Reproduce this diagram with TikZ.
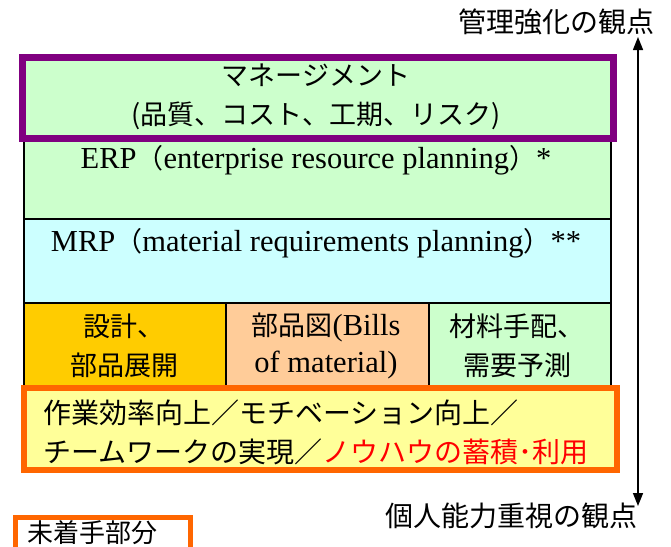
\documentclass[tikz,border=0pt]{standalone}
\usepackage{fontspec}
\setmainfont{Liberation Serif}
\newfontfamily\jp{Noto Sans CJK JP}
\usetikzlibrary{arrows.meta}
\definecolor{lgreen}{HTML}{CCFFCC}
\definecolor{lcyan}{HTML}{CCFFFF}
\definecolor{gold}{HTML}{FFCC00}
\definecolor{peach}{HTML}{FFCC99}
\definecolor{lyellow}{HTML}{FFFF99}
\definecolor{mpurple}{HTML}{800080}
\definecolor{morange}{HTML}{FF6600}
\newcommand\jpp[1]{{\jp\fontsize{27}{30}\selectfont #1}}
\begin{document}
\begin{tikzpicture}[x=1pt,y=-1pt,
  cell/.style={draw=black,line width=1.8pt,anchor=north west,inner sep=0pt},
  txt/.style={font=\fontsize{30.5}{37}\selectfont,align=center,inner sep=0pt},
  jtxt/.style={font=\jp\fontsize{27}{39}\selectfont,inner sep=0pt},
  lbl/.style={font=\jp\fontsize{28}{30}\selectfont,inner sep=0pt}]
\useasboundingbox (0,0) rectangle (671,546);
% layers
\node[cell,fill=lgreen,minimum width=587pt,minimum height=163pt] (erp) at (23,55) {};
\node[cell,fill=lcyan,minimum width=587pt,minimum height=84pt] (mrp) at (23,218) {};
\node[cell,fill=gold,minimum width=202pt,minimum height=84pt] (c1) at (23,302) {};
\node[cell,fill=peach,minimum width=203pt,minimum height=84pt] (c2) at (225,302) {};
\node[cell,fill=lgreen,minimum width=182pt,minimum height=84pt] (c3) at (428,302) {};
% management box
\node[draw=mpurple,line width=7pt,fill=lgreen,anchor=north west,inner sep=0pt,
  minimum width=591pt,minimum height=81pt] (mgmt) at (18.5,53.5) {};
% bottom orange box
\node[draw=morange,line width=6pt,fill=lyellow,anchor=north west,inner sep=0pt,
  minimum width=593pt,minimum height=82pt] (team) at (21,385) {};
% legend box
\node[draw=morange,line width=5pt,fill=white,anchor=north west,inner sep=0pt,
  minimum width=175pt,minimum height=40pt] (legend) at (12.5,514.5) {};
% texts
\node[jtxt,align=center] (mgmtt) at (316,97) {マネージメント\\(品質、コスト、工期、リスク)};
\node[txt] (erpt) at (316,160) {ERP\jpp{（}enterprise resource planning\jpp{）}*};
\node[txt] (mrpt) at (316,243) {MRP\jpp{（}material requirements planning\jpp{）}**};
\node[jtxt,align=center] (c1t) at (124,346) {設計、\\部品展開};
\node[txt] (c2t) at (326,346) {\jpp{部品図}(Bills\\of material)};
\node[jtxt,align=center] (c3t) at (517,346) {材料手配、\\需要予測};
\node[jtxt,align=left,anchor=west,font=\jp\fontsize{28}{39}\selectfont] (teamt) at (43,432)
  {作業効率向上／モチベーション向上／\\チームワークの実現／\textcolor{red}{ノウハウの蓄積･利用}};
\node[lbl,anchor=west,font=\jp\fontsize{26}{30}\selectfont] (legendt) at (27,533) {未着手部分};
% axis arrow
\coordinate (atop) at (638,37);
\coordinate (abot) at (638,506);
\draw[{Triangle[width=10pt,length=13pt]}-{Triangle[width=10pt,length=13pt]},line width=1.5pt] (atop) -- (abot);
\node[lbl,anchor=east] (toplbl) at (655,22) {管理強化の観点};
\node[lbl,anchor=east] (botlbl) at (638,516) {個人能力重視の観点};
\end{tikzpicture}
\end{document}
